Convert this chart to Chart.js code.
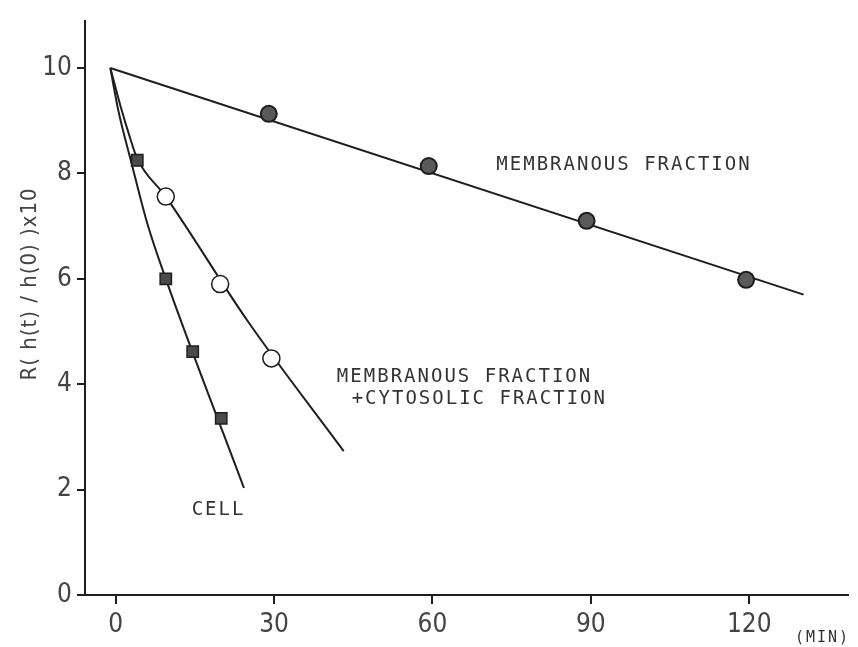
<!DOCTYPE html>
<html>
<head>
<meta charset="utf-8">
<script src="https://cdn.jsdelivr.net/npm/chart.js@4"></script>
<style>
  html, body { margin: 0; padding: 0; background: #fff; }
  canvas { display: block; }
</style>
</head>
<body>
<canvas id="chart" width="858" height="647"></canvas>
<script>
// Measured points (minutes, R x10)
const cellX = [4.1, 9.5, 14.6, 20];
const cellY = [8.25, 6.0, 4.62, 3.35];
const mixX = [9.5, 19.8, 29.5];
const mixY = [7.56, 5.9, 4.49];
const membX = [29, 59.3, 89.2, 119.4];
const membY = [9.13, 8.14, 7.1, 5.98];

// Hand-drawn fit lines
const membFitX = [-1, 130.3];
const membFitY = [10, 5.70];
const mixFitX = [-1, 1, 2.5, 4.1, 9.5, 25, 43.2];
const mixFitY = [10, 9.25, 8.75, 8.28, 7.56, 5.2, 2.73];
const cellFitX = [-1, 0.5, 3, 6, 9.5, 24.3];
const cellFitY = [10, 9.2, 8.2, 7.05, 6.0, 2.03];

// Axis ticks
const xTicks = [0, 30, 60, 90, 120];
const yTicks = [0, 2, 4, 6, 8, 10];

const ink = '#1e1e1e';
const pts = (xs, ys) => xs.map((x, i) => ({ x: x, y: ys[i] }));

// Text labels placed in data units
const notes = [
    { text: 'MEMBRANOUS FRACTION', x: 72.1, y: 8.16 },
    { text: 'MEMBRANOUS FRACTION', x: 41.9, y: 4.14 },
    { text: '+CYTOSOLIC FRACTION', x: 44.7, y: 3.72 },
    { text: 'CELL', x: 14.4, y: 1.62 }
];

const labelsPlugin = {
    id: 'labels',
    afterDraw(chart) {
        const ctx = chart.ctx;
        const xs = chart.scales.x, ys = chart.scales.y;
        ctx.save();
        ctx.fillStyle = '#333';
        ctx.font = '19px "DejaVu Sans Mono", monospace';
        ctx.letterSpacing = '2px';
        ctx.textAlign = 'left';
        ctx.textBaseline = 'middle';
        notes.forEach(n => {
            ctx.fillText(n.text, xs.getPixelForValue(n.x), ys.getPixelForValue(n.y));
        });

        // unit label after the last tick
        ctx.font = '15px "DejaVu Sans Mono", monospace';
        ctx.fillText('(MIN)', 795, 638);

        // rotated y-axis title
        ctx.letterSpacing = '1px';
        ctx.font = '22px "Liberation Sans Narrow", "DejaVu Sans Condensed", sans-serif';
        ctx.fillStyle = '#444';
        ctx.translate(30, 284);
        ctx.rotate(-Math.PI / 2);
        ctx.textAlign = 'center';
        ctx.fillText('R( h(t) / h(0) )x10', 0, 0);
        ctx.restore();
    }
};

const tickFont = { family: '"Liberation Sans Narrow", "DejaVu Sans Condensed", sans-serif', size: 26 };

new Chart(document.getElementById('chart'), {
    type: 'scatter',
    data: {
        datasets: [
            {
                data: pts(membX, membY),
                pointStyle: 'circle', pointRadius: 8,
                backgroundColor: '#5a5a5a', borderColor: ink, borderWidth: 2,
                order: 0
            },
            {
                data: pts(mixX, mixY),
                pointStyle: 'circle', pointRadius: 8.5,
                backgroundColor: '#fff', borderColor: ink, borderWidth: 1.5,
                order: 0
            },
            {
                data: pts(cellX, cellY),
                pointStyle: 'rect', pointRadius: 8,
                backgroundColor: '#4a4a4a', borderColor: ink, borderWidth: 1.5,
                order: 0
            },
            {
                data: pts(membFitX, membFitY),
                showLine: true, pointRadius: 0, borderColor: ink, borderWidth: 2,
                order: 1
            },
            {
                data: pts(mixFitX, mixFitY),
                showLine: true, pointRadius: 0, borderColor: ink, borderWidth: 2,
                cubicInterpolationMode: 'monotone',
                order: 1
            },
            {
                data: pts(cellFitX, cellFitY),
                showLine: true, pointRadius: 0, borderColor: ink, borderWidth: 2,
                cubicInterpolationMode: 'monotone',
                order: 1
            }
        ]
    },
    options: {
        responsive: false,
        animation: false,
        layout: { padding: { top: 13, right: 0, left: 0, bottom: 0 } },
        plugins: {
            legend: { display: false },
            tooltip: { enabled: false }
        },
        scales: {
            x: {
                type: 'linear',
                min: -5.8,
                max: 138.7,
                afterBuildTicks: s => { s.ticks = xTicks.map(v => ({ value: v })); },
                afterFit: s => { s.height = 52; },
                grid: { drawOnChartArea: false, drawTicks: true, tickLength: 9, color: ink, lineWidth: 2 },
                border: { display: true, color: ink, width: 2 },
                ticks: { color: '#444', font: tickFont, padding: 6, maxRotation: 0 }
            },
            y: {
                type: 'linear',
                min: 0,
                max: 10.9,
                afterBuildTicks: s => { s.ticks = yTicks.map(v => ({ value: v })); },
                afterFit: s => { s.width = 85; },
                grid: { drawOnChartArea: false, drawTicks: true, tickLength: 8, color: ink, lineWidth: 2 },
                border: { display: true, color: ink, width: 2 },
                ticks: { color: '#444', font: tickFont, padding: 5 }
            }
        }
    },
    plugins: [labelsPlugin]
});
</script>
</body>
</html>
